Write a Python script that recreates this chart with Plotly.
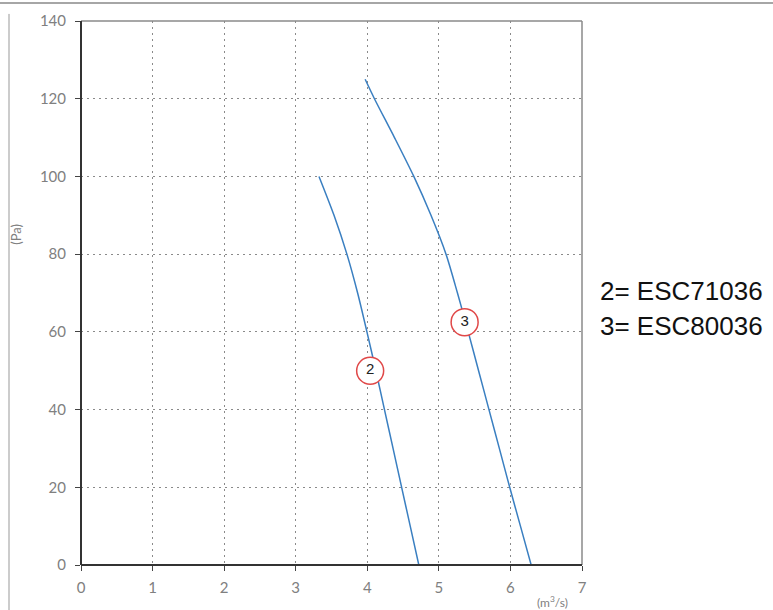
import plotly.graph_objects as go

# Curve 2 (ESC71036)
flow_2 = [3.325, 3.535, 3.715, 3.865, 3.995, 4.12, 4.24, 4.36, 4.48, 4.60, 4.72]
pa_2 = [100, 90, 80, 70, 60, 50, 40, 30, 20, 10, 0]

# Curve 3 (ESC80036)
flow_3 = [3.97, 4.10, 4.38, 4.65, 4.89, 5.10, 5.26, 5.41, 5.555, 5.70, 5.845, 5.99, 6.14, 6.29]
pa_3 = [125, 120, 110, 100, 90, 80, 70, 60, 50, 40, 30, 20, 10, 0]

label_names = ["2", "3"]
label_x = [4.04, 5.36]
label_y = [50, 62.5]

legend_lines = ["2= ESC71036", "3= ESC80036"]

x_ticks = [0, 1, 2, 3, 4, 5, 6, 7]
y_ticks = [0, 20, 40, 60, 80, 100, 120, 140]

line_color = "#3a7fc1"
tick_font = dict(family="Lato, 'Open Sans', sans-serif", size=15, color="#808080")

fig = go.Figure()
fig.add_trace(go.Scatter(x=flow_2, y=pa_2, mode="lines",
                         line=dict(color=line_color, width=1.5, shape="spline", smoothing=0.8), hoverinfo="skip"))
fig.add_trace(go.Scatter(x=flow_3, y=pa_3, mode="lines",
                         line=dict(color=line_color, width=1.5, shape="spline", smoothing=0.8), hoverinfo="skip"))
fig.add_trace(go.Scatter(
    x=label_x, y=label_y, mode="markers+text", text=label_names,
    textposition="middle center",
    textfont=dict(family="Liberation Sans, Arial, sans-serif", size=15, color="#222222"),
    marker=dict(symbol="circle", size=27, color="white", line=dict(color="#e04848", width=1.5)),
    hoverinfo="skip"))

grid = dict(showgrid=True, gridcolor="#8a8a8a", griddash="2px,4px", gridwidth=1)

fig.update_layout(
    width=773, height=610,
    margin=dict(l=81, r=191, t=21, b=45),
    paper_bgcolor="white", plot_bgcolor="white",
    showlegend=False,
    xaxis=dict(range=[0, 7], tickvals=x_ticks, ticktext=[str(v) for v in x_ticks],
               zeroline=False, showline=False,
               ticks="outside", ticklen=5, tickcolor="#444", tickwidth=1,
               ticklabelstandoff=4, tickfont=tick_font, fixedrange=True, **grid),
    yaxis=dict(range=[0, 140], tickvals=y_ticks, ticktext=[str(v) for v in y_ticks],
               zeroline=False, showline=False,
               ticks="outside", ticklen=5, tickcolor="#444", tickwidth=1,
               ticklabelstandoff=6, tickfont=tick_font, fixedrange=True, **grid),
    shapes=[
        dict(type="line", xref="paper", yref="paper", x0=0, x1=1, y0=1, y1=1, line=dict(color="#8a8a8a", width=1.5)),
        dict(type="line", xref="paper", yref="paper", x0=1, x1=1, y0=0, y1=1, line=dict(color="#8a8a8a", width=1.5)),
        dict(type="line", xref="paper", yref="paper", x0=0, x1=0, y0=0, y1=1, line=dict(color="#333333", width=2)),
        dict(type="line", xref="paper", yref="paper", x0=0, x1=1, y0=0, y1=0, line=dict(color="#333333", width=2)),
        dict(type="line", xref="paper", yref="paper", x0=-0.17, x1=1.39, y0=1.033, y1=1.033, line=dict(color="#888888", width=1.5)),
        dict(type="line", xref="paper", yref="paper", x0=-0.1437, x1=-0.1437, y0=1.013, y1=-0.09, line=dict(color="#999999", width=1)),
    ],
    annotations=[
        dict(text="(m<sup>3</sup>/s)", xref="paper", yref="paper", x=0.942, y=-0.068,
             xanchor="center", yanchor="middle", showarrow=False,
             font=dict(family="Lato, 'Open Sans', sans-serif", size=12, color="#808080")),
        dict(text="(Pa)", xref="paper", yref="paper", x=-0.1297, y=0.607, textangle=-90,
             xanchor="center", yanchor="middle", showarrow=False,
             font=dict(family="Lato, 'Open Sans', sans-serif", size=13, color="#808080")),
        dict(text=legend_lines[0], xref="paper", yref="paper", x=1.032, y=0.504,
             xanchor="left", yanchor="middle", showarrow=False,
             font=dict(family="Liberation Sans, Arial, sans-serif", size=26, color="#111111")),
        dict(text=legend_lines[1], xref="paper", yref="paper", x=1.032, y=0.439,
             xanchor="left", yanchor="middle", showarrow=False,
             font=dict(family="Liberation Sans, Arial, sans-serif", size=26, color="#111111")),
    ],
)

fig.write_html("out.html", config={"displayModeBar": False},
               post_script="document.body.style.margin='0';document.body.style.padding='0';")
